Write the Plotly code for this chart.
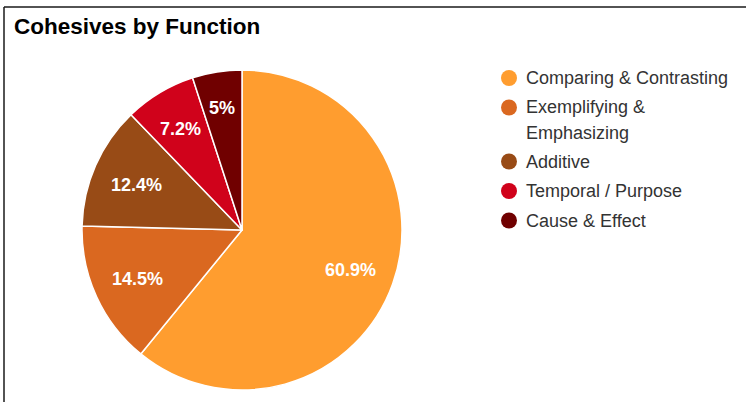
import math
import plotly.graph_objects as go

# Share of cohesive devices by function
categories = [
    "Comparing & Contrasting",
    "Exemplifying &<br>Emphasizing",
    "Additive",
    "Temporal / Purpose",
    "Cause & Effect",
]
shares = [60.9, 14.5, 12.4, 7.2, 5.0]
colors = ["#ff9d2f", "#da6820", "#984b16", "#d0021b", "#700000"]

W, H = 746, 402
FONT = "Liberation Sans, Arial, sans-serif"
LABEL_SIZE = 18

# Advance widths of bold Arial glyphs (per 1000 em) used to size the slice labels
BOLD_WIDTHS = {".": 278, "%": 889}


def px_x(x):
    return x / W


def px_y(y):
    return 1 - y / H


def text_width(s, size):
    return sum(BOLD_WIDTHS.get(ch, 556) for ch in s) * size / 1000


def fmt(v):
    return f"{v:g}%"


# Pie centred at (cx, cy) px with radius r
cx, cy, r = 242, 230, 160

fig = go.Figure()
fig.add_trace(go.Pie(
    labels=[c.replace("<br>", " ") for c in categories],
    values=shares,
    sort=False,
    direction="clockwise",
    rotation=0,
    marker=dict(colors=colors, line=dict(color="white", width=1.5)),
    textinfo="none",
    hoverinfo="label+percent",
    showlegend=False,
    domain=dict(x=[px_x(cx - r), px_x(cx + r)], y=[px_y(cy + r), px_y(cy - r)]),
))


def box_fits(x, y, hw, hh, a0, a1, margin):
    """True when a text box centred at (x, y) sits inside the wedge a0..a1."""
    for sx in (-1, 1):
        for sy in (-1, 1):
            dx, dy = x + sx * hw - cx, y + sy * hh - cy
            rho = math.hypot(dx, dy)
            ang = math.degrees(math.atan2(dx, -dy)) % 360
            if rho > r - margin:
                return False
            if a1 - a0 >= 180:
                continue
            rel = (ang - a0) % 360
            if rel > a1 - a0:
                return False
            d0 = rho * math.sin(math.radians(rel))
            d1 = rho * math.sin(math.radians(a1 - a0 - rel))
            if min(d0, d1) < margin:
                return False
    return True


annotations = []
total = sum(shares)
start = 0.0
for v in shares:
    a0 = start / total * 360
    a1 = (start + v) / total * 360
    mid = math.radians((a0 + a1) / 2)
    label = fmt(v)
    hw = text_width(label, LABEL_SIZE) / 2
    hh = LABEL_SIZE * 0.38
    rr = 0.72 * r
    while rr < r:
        lx, ly = cx + rr * math.sin(mid), cy - rr * math.cos(mid)
        if box_fits(lx, ly, hw, hh, a0, a1, 5):
            break
        rr += 0.5
    annotations.append(dict(
        text=f"<b>{label}</b>", x=px_x(lx), y=px_y(ly + 1), xref="paper", yref="paper",
        xanchor="center", yanchor="middle", showarrow=False,
        font=dict(family=FONT, size=LABEL_SIZE, color="white"),
    ))
    start += v

annotations.append(dict(
    text="<b>Cohesives by Function</b>", x=px_x(12), y=px_y(27),
    xref="paper", yref="paper", xanchor="left", yanchor="middle",
    showarrow=False, font=dict(family=FONT, size=22.5, color="#000000"),
))
shapes = [
    dict(type="line", xref="paper", yref="paper", x0=px_x(4), x1=1, y0=px_y(7), y1=px_y(7),
         line=dict(color="#1a1a1a", width=1.5)),
    dict(type="line", xref="paper", yref="paper", x0=px_x(4), x1=px_x(4), y0=px_y(7), y1=0,
         line=dict(color="#1a1a1a", width=1.5)),
]

# Legend: coloured dot plus label, wrapped lines stacked beneath
y = 78
for label, color in zip(categories, colors):
    shapes.append(dict(type="circle", xref="paper", yref="paper",
                       x0=px_x(509 - 8), x1=px_x(509 + 8), y0=px_y(y + 8), y1=px_y(y - 8),
                       fillcolor=color, line=dict(width=0)))
    lines = label.split("<br>")
    for k, line in enumerate(lines):
        annotations.append(dict(
            text=line, x=px_x(524), y=px_y(y + 25 * k), xref="paper", yref="paper",
            xanchor="left", yanchor="middle", showarrow=False,
            font=dict(family=FONT, size=18, color="#333333"),
        ))
    y += 29.5 + 24.5 * (len(lines) - 1)

fig.update_layout(
    width=W, height=H,
    margin=dict(l=0, r=0, t=0, b=0),
    paper_bgcolor="white", plot_bgcolor="white",
    annotations=annotations, shapes=shapes,
)

fig.write_html("out.html")
